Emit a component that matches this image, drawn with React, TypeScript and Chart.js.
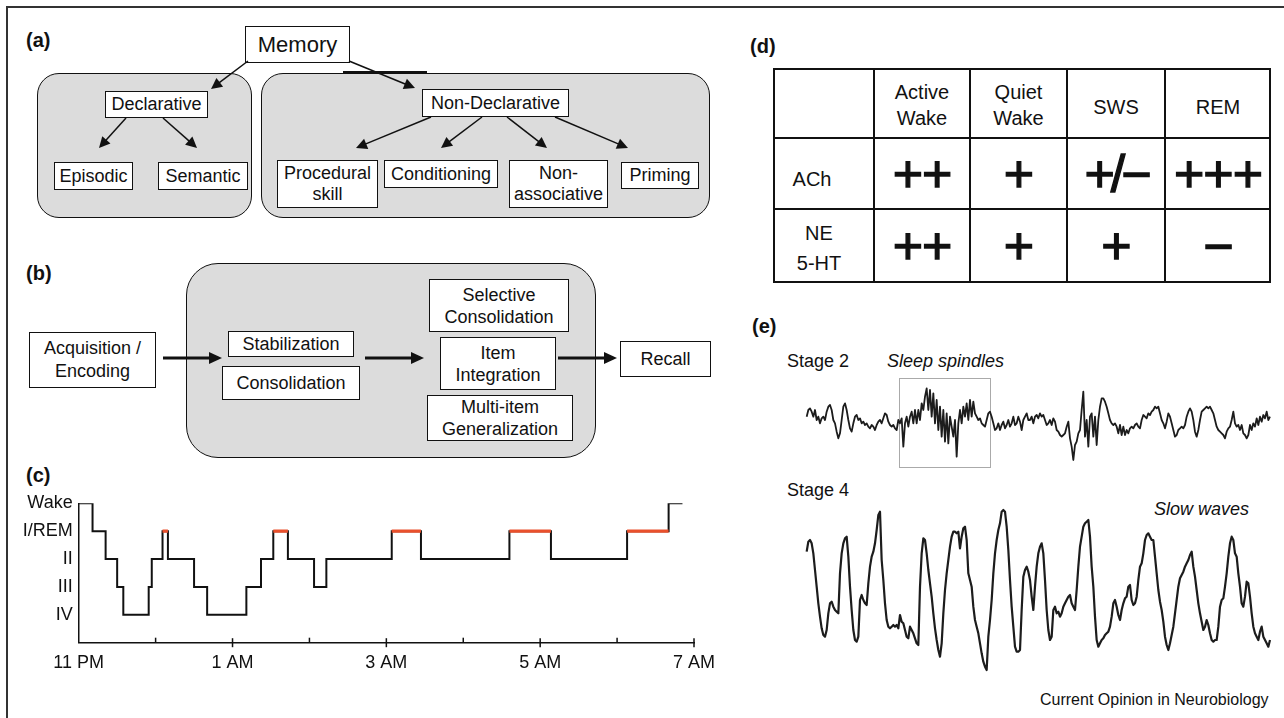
import React, { useEffect, useRef } from 'react';
import { Chart, registerables } from 'chart.js';
Chart.register(...registerables);

const FONT = '"Liberation Sans", Arial, Helvetica, sans-serif';
Chart.defaults.font.family = FONT;

// ---------- (c) hypnogram data ----------
const hourLabels = ['11 PM', '', '1 AM', '', '3 AM', '', '5 AM', '', '7 AM'];
const stageNames = ['', 'IV', 'III', 'II', 'I/REM', 'Wake'];
const stageSequence = ['W', 'I', 'II', 'III', 'IV', 'III', 'II', 'REM', 'II', 'III', 'IV', 'III', 'II', 'REM', 'II', 'III', 'II', 'REM', 'II', 'REM', 'II', 'REM', 'W'];
const stageOnsetHours = [0, 0.18, 0.35, 0.5, 0.58, 0.91, 0.95, 1.09, 1.16, 1.5, 1.67, 2.18, 2.37, 2.53, 2.72, 3.06, 3.22, 4.07, 4.45, 5.6, 6.14, 7.13, 7.67];
const recordingEndHour = 7.85;
const stageDepth: Record<string, number> = { W: 5, I: 4, REM: 4, II: 3, III: 2, IV: 1 };

// ---------- (d) table data ----------
const tableColumns = [['Active', 'Wake'], ['Quiet', 'Wake'], ['SWS'], ['REM']];
const tableRowLabels = [['ACh'], ['NE', '5-HT']];
const achLevels = ['++', '+', '+/\u2212', '+++'];
const neLevels = ['++', '+', '+', '\u2212'];

// ---------- (e) EEG traces (arbitrary µV, equal sample spacing) ----------
const stage2Trace = [
  30, 50, 55, 45, 30, 50, 20, 30, 10, 25, 30, 20, 45, 60, 65, 50, 20, 10, -15, -35,
  -20, 20, 60, 70, 50, 20, -5, -15, 10, 30, 35, 20, 25, 10, 15, 5, 10, 0, -5, 5,
  0, -10, 5, 15, 20, 10, 25, 40, 35, 15, 5, 0, 5, -5, -10, 20, 10, 25, -60, 10,
  30, 0, 30, 45, 10, 50, 10, 50, 20, 70, 50, 90, 115, 50, 110, 30, 100, 10, 80, -10,
  60, -30, 50, -45, 40, -50, 30, 0, -30, 20, -90, 10, 50, 10, 60, 30, 70, 20, 80, 30,
  75, 40, 30, 20, 25, 10, 5, 0, 20, 40, 45, 30, 10, -10, -5, 10, -10, 5, 15, -5,
  5, 20, 0, 10, 30, 5, 10, 30, 15, -10, 20, 30, 40, 20,
  20, 30, 10, 30, 35, 25, 40, 30, 35, 20, 5, 10, 20, 5, 25, 15, -10, -15, -25, -30,
  -25, -20, 0, 15, -35, -60, -100, -55, -45, -20, -10, 50, 105, -30, 20, -60, 30, 40, -30, 30,
  -55, 20, 60, 85, 85, 75, 60, 40, 20, 10, 5, 10, 0, -20, 5, -25, 0, -25, -10, -20,
  -5, 0, -5, 5, 10, 0, -5, 20, 35, 30, 25, 40, 35, 45, 50, 60, 55, 60, 40, 20,
  10, -5, 15, 40, 30, 10, -10, -30, -25, -10, -5, 0, -5, 5, 30, 45, 55, 45, 20, -15,
  -30, -10, 20, 45, 50, 55, 60, 55, 60, 50, 40, 20, 0, -10, -15, -20, -25, -35, -15, -5,
  0, 20, 45, 10, 0, 5, -10, 5, -20, -25, -35, -25, 5, -10, 10, 0, 25, 5, 30, 15,
  35, 25, 45, 20, 30,
];
const stage4Trace = [
  115, 145, 150, 140, 110, 60, 10, -40, -80, -115, -135, -140, -120, -70, -40, -35, -50, -60, -65, -70,
  50, 110, 140, 155, 160, 100, 10, -60, -120, -150, -155, -140, -30, -15, -30, -40, -45, 20, 70, 100,
  115, 140, 180, 225, 235, 90, 30, -40, -90, -110, -115, -110, -105, -110, -105, -115, -75, -95, -100, -120,
  -140, -145, -110, -120, -130, -145, -160, -165, 10, 110, 155, 150, 110, 60, 20, -20, -70, -115, -150, -180,
  -200, -160, -70, 0, 50, 90, 130, 160, 175, 175, 170, 175, 125, 160, 185, 190, 150, 50, 30, 10,
  -50, -90, -110, -130, -160, -190, -215, -230, -240, -140, -90, -30, 50, 110, 150, 180, 200, 235, 240, 235,
  190, 120, 30, -50, -110, -170, -185, -185, -180, -60, 40, 60, 70, 55,
  30, -20, -60, 10, 70, 110, 130, 140, 110, 30, -60, -120, -150, -140, -60, -50, -70, -65, -80, -70,
  -50, -40, -30, -20, -15, -40, -50, -60, 0, 70, 130, 160, 190, 200, 205, 210, 160, 70, 10, -80,
  -150, -170, -160, -150, -145, -135, -130, -125, -110, -80, -40, -30, -50, -75, -90, -60, -40, -25, -20, 10,
  15, -30, -45, -40, -20, 30, 70, 80, 110, 150, 165, 170, 160, 150, 150, 100, 50, 0, -35, -60,
  -95, -140, -165, -180, -160, -135, -110, -70, -30, 10, 35, 45, 55, 70, 80, 90, 105, 115, 70, 40,
  0, -40, -70, -95, -120, -110, -90, -105, -130, -150, -155, -150, -150, -110, -50, -30, -25, 10, 50, 100,
  140, 160, 150, 110, 100, 50, 10, -40, -50, -20, 25, 20, -20, -70, -110, -130, -140, -150, -125, -110,
  -140, -150, -160, -170, -150,
];

// ---------- diagram text ----------
const memoryTypes = ['Memory', 'Declarative', 'Non-Declarative'];
const declarativeTypes = ['Episodic', 'Semantic'];
const proceduralTypes = [['Procedural', 'skill'], ['Conditioning'], ['Non-', 'associative'], ['Priming']];

const INK = '#111';

function Text({ x, cy, text, size = 18, bold = false, italic = false, center = false }: any) {
  const lh = Math.round(size * 1.2);
  return (
    <div style={{ position: 'absolute', left: x, top: cy - lh / 2, fontSize: size, lineHeight: `${lh}px`, fontWeight: bold ? 700 : 400, fontStyle: italic ? 'italic' : 'normal', whiteSpace: 'nowrap', transform: center ? 'translateX(-50%)' : undefined }}>
      {text}
    </div>
  );
}

function Box({ x, y, w, h, lines, size = 18, lh = 21, bw = 1.5 }: any) {
  return (
    <div style={{ position: 'absolute', left: x, top: y, width: w, height: h, boxSizing: 'border-box', border: `${bw}px solid ${INK}`, background: '#fff', display: 'flex', flexDirection: 'column', justifyContent: 'center', alignItems: 'center', fontSize: size, lineHeight: `${lh}px`, textAlign: 'center', whiteSpace: 'nowrap' }}>
      {lines.map((l: string, i: number) => <span key={i}>{l}</span>)}
    </div>
  );
}

function GrayPanel({ x, y, w, h, r }: any) {
  return <div style={{ position: 'absolute', left: x, top: y, width: w, height: h, boxSizing: 'border-box', border: `1.5px solid ${INK}`, borderRadius: r, background: '#dcdcdc' }} />;
}

function Arrow({ x1, y1, x2, y2, w = 1.5, hl = 11, hw = 5.5 }: any) {
  const dx = x2 - x1, dy = y2 - y1;
  const len = Math.hypot(dx, dy);
  const ux = dx / len, uy = dy / len;
  const bx = x2 - ux * hl, by = y2 - uy * hl;
  const px = -uy, py = ux;
  const pts = `${x2},${y2} ${bx + px * hw},${by + py * hw} ${bx - px * hw},${by - py * hw}`;
  return (
    <g>
      <line x1={x1} y1={y1} x2={bx + ux * 1} y2={by + uy * 1} stroke={INK} strokeWidth={w} />
      <polygon points={pts} fill={INK} />
    </g>
  );
}

const hourTickPlugin = {
  id: 'hourTicks',
  afterDraw(chart: any) {
    const xs = chart.scales.x;
    const y0 = chart.chartArea.bottom;
    const ctx = chart.ctx;
    ctx.save();
    ctx.strokeStyle = INK;
    ctx.lineWidth = 1.5;
    hourLabels.forEach((lab, i) => {
      if (i === 0) return;
      const px = xs.getPixelForValue(i);
      ctx.beginPath();
      if (lab) { ctx.moveTo(px, y0 - 4.5); ctx.lineTo(px, y0 + 4.5); }
      else { ctx.moveTo(px, y0 - 5); ctx.lineTo(px, y0); }
      ctx.stroke();
    });
    ctx.restore();
  },
};

function Hypnogram() {
  const ref = useRef<HTMLCanvasElement>(null);
  useEffect(() => {
    const pts = stageOnsetHours.map((t, i) => ({ x: t, y: stageDepth[stageSequence[i]] }));
    pts.push({ x: recordingEndHour, y: stageDepth[stageSequence[stageSequence.length - 1]] });
    const rem: any[] = [];
    stageSequence.forEach((s, i) => {
      if (s === 'REM') {
        const end = i + 1 < stageOnsetHours.length ? stageOnsetHours[i + 1] : recordingEndHour;
        rem.push({ x: stageOnsetHours[i], y: stageDepth.REM }, { x: end, y: stageDepth.REM }, { x: end, y: null });
      }
    });
    const tickFont = { family: FONT, size: 18 };
    const chart = new Chart(ref.current as HTMLCanvasElement, {
      type: 'line',
      data: {
        datasets: [
          { data: rem, borderColor: '#e9502c', borderWidth: 3.2, pointRadius: 0, spanGaps: false, order: 0, borderCapStyle: 'butt' } as any,
          { data: pts, stepped: true, borderColor: INK, borderWidth: 2, pointRadius: 0, order: 1, borderJoinStyle: 'miter' } as any,
        ],
      },
      plugins: [hourTickPlugin as any],
      options: {
        animation: false,
        responsive: false,
        events: [],
        layout: { padding: { top: 33.3, right: 36, left: 0, bottom: 0 } },
        plugins: { legend: { display: false }, tooltip: { enabled: false } },
        scales: {
          x: {
            type: 'linear', min: 0, max: 8,
            ticks: { stepSize: 1, autoSkip: false, maxRotation: 0, color: INK, font: tickFont, padding: 10, callback: (v: any) => hourLabels[v] ?? '' },
            grid: { drawOnChartArea: false, drawTicks: false },
            border: { display: true, color: INK, width: 1.5 },
            afterFit: (s: any) => { s.height = 37.3; s.paddingLeft = 0; s.paddingRight = 0; },
          },
          y: {
            type: 'linear', min: 0, max: 5,
            ticks: { stepSize: 1, color: INK, font: tickFont, padding: 6, callback: (v: any) => stageNames[v] ?? '' },
            grid: { display: false, drawTicks: false },
            border: { display: true, color: INK, width: 1.5 },
            afterFit: (s: any) => { s.width = 78.7; s.paddingTop = 0; s.paddingBottom = 0; },
          },
        },
      } as any,
    });
    return () => chart.destroy();
  }, []);
  return <canvas ref={ref} width={730} height={210} style={{ position: 'absolute', left: 0, top: 470, width: 730, height: 210 }} />;
}

function Trace({ values, left, top, width, height, yMin, yMax, xMin, xMax, lineWidth }: any) {
  const ref = useRef<HTMLCanvasElement>(null);
  useEffect(() => {
    const chart = new Chart(ref.current as HTMLCanvasElement, {
      type: 'line',
      data: { datasets: [{ data: values.map((v: number, i: number) => ({ x: i, y: v })), borderColor: '#1c1c1c', borderWidth: lineWidth, pointRadius: 0, tension: 0, borderJoinStyle: 'round' } as any] },
      options: {
        animation: false, responsive: false, events: [],
        layout: { padding: 0 },
        plugins: { legend: { display: false }, tooltip: { enabled: false } },
        scales: { x: { type: 'linear', display: false, min: xMin, max: xMax }, y: { type: 'linear', display: false, min: yMin, max: yMax } },
      } as any,
    });
    return () => chart.destroy();
  }, []);
  return <canvas ref={ref} width={width} height={height} style={{ position: 'absolute', left, top, width, height }} />;
}

function TableD() {
  const xs = [773, 874, 970, 1067, 1165, 1271];
  const ys = [68, 138, 209, 283];
  const cells: any[] = [];
  const sym = (cx: number, cy: number, key: string, s: string) => (
    <div key={key} style={{ position: 'absolute', left: cx, top: cy - 30, transform: 'translateX(-50%)', fontSize: 52, lineHeight: '60px', fontWeight: 400, WebkitTextStroke: `1.3px ${INK}`, letterSpacing: s.includes('/') ? -4 : -1, whiteSpace: 'nowrap' } as any}>{s}</div>
  );
  tableColumns.forEach((lines, c) => {
    const cx = (xs[c + 1] + xs[c + 2]) / 2;
    lines.forEach((l, k) => {
      const cy = lines.length === 1 ? 107 : 92 + k * 26;
      cells.push(<Text key={`h${c}${k}`} x={cx} cy={cy} text={l} size={20} center />);
    });
  });
  tableRowLabels.forEach((lines, r) => {
    lines.forEach((l, k) => {
      const cy = lines.length === 1 ? 179 : 233 + k * 30;
      cells.push(<Text key={`r${r}${k}`} x={lines.length === 1 ? 812 : 819} cy={cy} text={l} size={20} center />);
    });
  });
  achLevels.forEach((s, c) => cells.push(sym((xs[c + 1] + xs[c + 2]) / 2, 174, `a${c}`, s)));
  neLevels.forEach((s, c) => cells.push(sym((xs[c + 1] + xs[c + 2]) / 2, 246, `n${c}`, s)));
  return (
    <>
      <div style={{ position: 'absolute', left: xs[0], top: ys[0], width: xs[5] - xs[0], height: ys[3] - ys[0], boxSizing: 'border-box', border: `2.5px solid ${INK}` }} />
      {xs.slice(1, 5).map((x, i) => <div key={`vx${i}`} style={{ position: 'absolute', left: x - 0.75, top: ys[0], width: 1.5, height: ys[3] - ys[0], background: INK }} />)}
      {ys.slice(1, 3).map((y, i) => <div key={`hy${i}`} style={{ position: 'absolute', left: xs[0], top: y - 0.75, width: xs[5] - xs[0], height: 1.5, background: INK }} />)}
      {cells}
    </>
  );
}

export default function App() {
  return (
    <div style={{ position: 'fixed', left: 0, top: 0, width: 1284, height: 718, background: '#fff', overflow: 'hidden', fontFamily: FONT, color: INK }}>
      {/* frame */}
      <div style={{ position: 'absolute', left: 6, top: 6, width: 1.5, height: 712, background: '#333' }} />
      <div style={{ position: 'absolute', left: 6, top: 6, width: 1278, height: 1.5, background: '#333' }} />

      {/* (a) */}
      <Text x={26} cy={40} text="(a)" size={20} bold />
      <GrayPanel x={37} y={73} w={215} h={145} r={22} />
      <GrayPanel x={261} y={73} w={449} h={145} r={22} />
      <div style={{ position: 'absolute', left: 343, top: 71, width: 84, height: 3, background: INK }} />
      <Box x={245} y={26} w={105} h={37} lines={[memoryTypes[0]]} size={22} />
      <Box x={105} y={91} w={103} h={27} lines={[memoryTypes[1]]} />
      <Box x={422} y={89} w={147} h={28} lines={[memoryTypes[2]]} />
      <Box x={54} y={162} w={79} h={28} lines={[declarativeTypes[0]]} />
      <Box x={158} y={162} w={90} h={28} lines={[declarativeTypes[1]]} />
      <Box x={277} y={160} w={101} h={48} lines={proceduralTypes[0]} />
      <Box x={384} y={160} w={114} h={28} lines={proceduralTypes[1]} />
      <Box x={509} y={160} w={99} h={48} lines={proceduralTypes[2]} />
      <Box x={621} y={162} w={78} h={27} lines={proceduralTypes[3]} />

      {/* (b) */}
      <Text x={26} cy={273} text="(b)" size={20} bold />
      <GrayPanel x={186} y={263} w={410} h={195} r={32} />
      <Box x={29} y={332} w={127} h={56} lines={['Acquisition /', 'Encoding']} lh={23} />
      <Box x={228} y={331} w={126} h={26} lines={['Stabilization']} />
      <Box x={222} y={366} w={138} h={34} lines={['Consolidation']} />
      <Box x={429} y={279} w={140} h={53} lines={['Selective', 'Consolidation']} lh={22} />
      <Box x={440} y={337} w={116} h={53} lines={['Item', 'Integration']} lh={22} />
      <Box x={427} y={395} w={146} h={46} lines={['Multi-item', 'Generalization']} lh={22} />
      <Box x={620} y={341} w={91} h={36} lines={['Recall']} />

      <svg width={1284} height={718} style={{ position: 'absolute', left: 0, top: 0, pointerEvents: 'none' }}>
        <Arrow x1={248} y1={61} x2={211} y2={89} />
        <Arrow x1={349} y1={61} x2={415} y2={88} />
        <Arrow x1={126} y1={118} x2={99} y2={148} />
        <Arrow x1={163} y1={118} x2={197} y2={148} />
        <Arrow x1={431} y1={117} x2={356} y2={148} />
        <Arrow x1={482} y1={117} x2={441} y2={148} />
        <Arrow x1={507} y1={117} x2={547} y2={148} />
        <Arrow x1={555} y1={117} x2={628} y2={148} />
        <Arrow x1={163} y1={358} x2={222} y2={358} w={3} hl={13} hw={6} />
        <Arrow x1={365} y1={358} x2={424} y2={358} w={3} hl={13} hw={6} />
        <Arrow x1={558} y1={358} x2={617} y2={358} w={3} hl={13} hw={6} />
      </svg>

      {/* (c) */}
      <Text x={26} cy={475} text="(c)" size={20} bold />
      <Hypnogram />

      {/* (d) */}
      <Text x={750} cy={46} text="(d)" size={20} bold />
      <TableD />

      {/* (e) */}
      <Text x={752} cy={326} text="(e)" size={20} bold />
      <Text x={787} cy={361} text="Stage 2" size={18} />
      <Text x={887} cy={361} text="Sleep spindles" size={18} italic />
      <div style={{ position: 'absolute', left: 899, top: 378, width: 92, height: 90, boxSizing: 'border-box', border: '1.5px solid #aaa' }} />
      <Trace values={stage2Trace} left={800} top={370} width={480} height={100} yMin={-130} yMax={170} xMin={-4} xMax={284} lineWidth={1.8} />
      <Text x={787} cy={490} text="Stage 4" size={18} />
      <Text x={1154} cy={509} text="Slow waves" size={18} italic />
      <Trace values={stage4Trace} left={800} top={490} width={480} height={200} yMin={-300} yMax={300} xMin={-4} xMax={284} lineWidth={2.2} />
      <Text x={1040} cy={699} text="Current Opinion in Neurobiology" size={16} />
    </div>
  );
}
